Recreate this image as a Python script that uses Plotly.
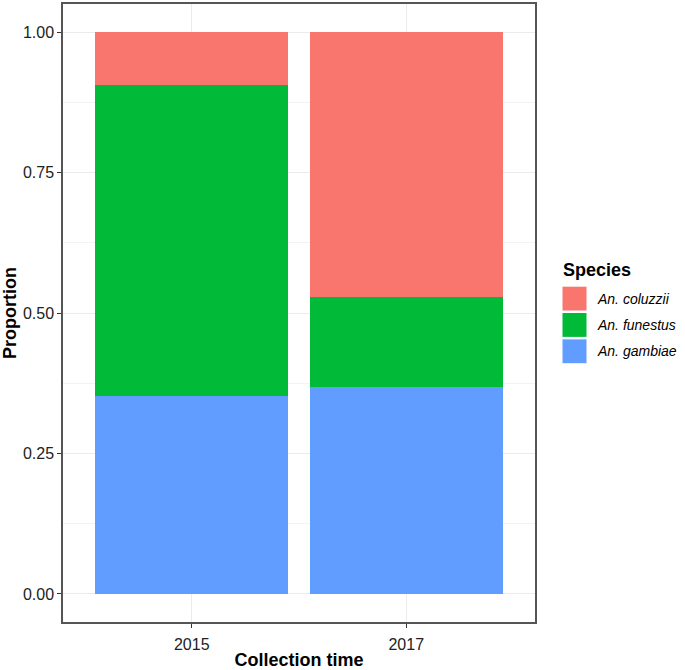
import plotly.graph_objects as go

years = ["2015", "2017"]
species = ["An. coluzzii", "An. funestus", "An. gambiae"]
coluzzii = [0.095, 0.471]
funestus = [0.553, 0.161]
gambiae = [0.352, 0.368]
colors = {"An. coluzzii": "#F8766D", "An. funestus": "#00BA38", "An. gambiae": "#619CFF"}
values = {"An. coluzzii": coluzzii, "An. funestus": funestus, "An. gambiae": gambiae}
yticks = [0, 0.25, 0.5, 0.75, 1.0]
yticklabels = ["0.00", "0.25", "0.50", "0.75", "1.00"]

fig = go.Figure()
for sp in ["An. gambiae", "An. funestus", "An. coluzzii"]:
    fig.add_trace(go.Bar(x=years, y=values[sp], name=sp, marker_color=colors[sp],
                         marker_line_width=0, width=0.9, showlegend=False))

font = "Liberation Sans, Arial, sans-serif"
L, R, T, B = 63, 150, 2, 47
PW, PH = 685 - L - R, 670 - T - B

def px(x):
    return (x - L) / PW

def py(y):
    return 1 - (y - T) / PH

fig.update_layout(
    width=685, height=670,
    margin=dict(l=L, r=R, t=T, b=B),
    barmode="stack",
    plot_bgcolor="white", paper_bgcolor="white",
    font=dict(family=font, size=16, color="#1a1a1a"),
    xaxis=dict(range=[-0.6, 1.6], showgrid=True, gridcolor="#EBEBEB", gridwidth=1,
               ticks="outside", ticklen=4, tickcolor="#333333",
               tickfont=dict(size=16, color="#222222"), ticklabelstandoff=3,
               showline=True, linecolor="#555555", linewidth=1.5, mirror=True,
               title=dict(text="<b>Collection time</b>", font=dict(size=18, color="black"), standoff=2),
               zeroline=False),
    yaxis=dict(range=[-0.05, 1.05], tickvals=yticks, ticktext=yticklabels,
               showgrid=True, gridcolor="#EBEBEB", gridwidth=1,
               minor=dict(dtick=0.125, tick0=0.125, showgrid=True, gridcolor="#F3F3F3", gridwidth=0.6),
               ticks="outside", ticklen=4, tickcolor="#333333",
               tickfont=dict(size=16, color="#222222"),
               showline=True, linecolor="#555555", linewidth=1.5, mirror=True,
               title=dict(text="<b>Proportion</b>", font=dict(size=18, color="black"), standoff=2),
               zeroline=False),
)

# Legend drawn manually to match ggplot key sizes
fig.add_annotation(xref="paper", yref="paper", x=px(561), y=py(269),
                   text="<b>Species</b>", showarrow=False, xanchor="left", yanchor="middle",
                   font=dict(size=18, color="black"))
for i, sp in enumerate(species):
    yc = 298 + i * 26.5
    fig.add_shape(type="rect", xref="paper", yref="paper",
                  x0=px(562), x1=px(587), y0=py(yc - 12.5), y1=py(yc + 12.5),
                  fillcolor=colors[sp], line=dict(color="white", width=1))
    fig.add_annotation(xref="paper", yref="paper", x=px(595), y=py(yc),
                       text="<i>" + sp + "</i>", showarrow=False, xanchor="left", yanchor="middle",
                       font=dict(size=14, color="black"))

fig.write_html("out.html", config={"displayModeBar": False},
               post_script="document.body.style.margin='0';")
